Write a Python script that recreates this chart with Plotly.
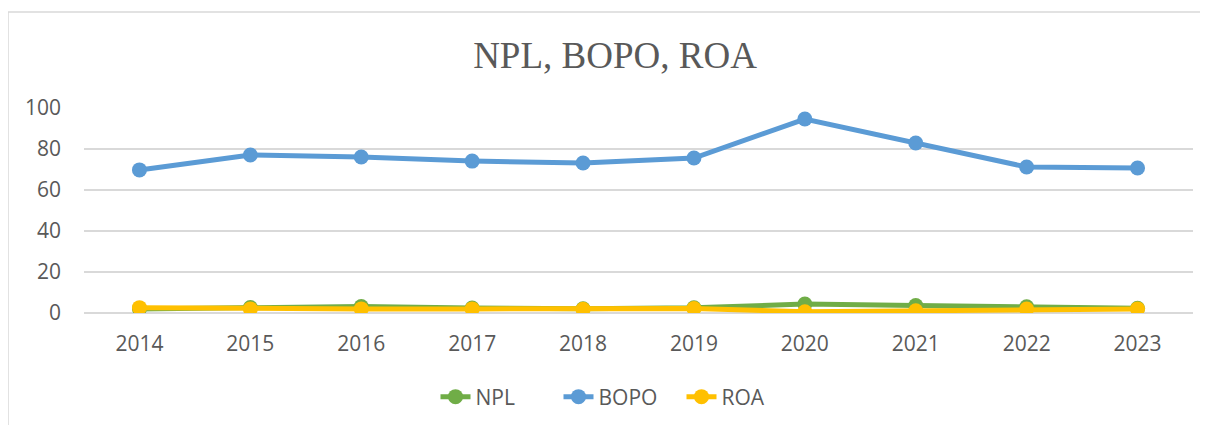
import plotly.graph_objects as go

years = ["2014", "2015", "2016", "2017", "2018", "2019", "2020", "2021", "2022", "2023"]
npl = [2.0, 2.7, 3.2, 2.4, 2.1, 2.5, 4.4, 3.6, 3.0, 2.3]
bopo = [69.8, 77.1, 76.1, 74.1, 73.2, 75.6, 94.6, 82.9, 71.2, 70.7]
roa = [2.6, 2.0, 2.0, 2.0, 1.8, 2.2, 0.6, 1.1, 1.9, 2.0]

series = [("NPL", npl, "#70AD47"), ("BOPO", bopo, "#5B9BD5"), ("ROA", roa, "#FFC000")]

fig = go.Figure()
for name, vals, col in series:
    fig.add_trace(go.Scatter(
        x=years, y=vals, name=name, mode="lines+markers",
        line=dict(color=col, width=5),
        marker=dict(color=col, size=15),
    ))

# page body adds an 8px margin, so the figure is placed at (8, 8)
O = 8
W, H = 1208 - 2 * O, 425 - O
L, R, T, B = 84 - O, W - (1193 - O), 108 - O, 112
pw, ph = W - L - R, H - T - B

bx0 = (8 - O - L) / pw
by1 = (T + ph - (12 - O)) / ph
border = dict(color="#D9D9D9", width=1.5)

fig.update_layout(
    width=W, height=H,
    margin=dict(l=L, r=R, t=T, b=B),
    paper_bgcolor="white", plot_bgcolor="white",
    font=dict(family="Open Sans, Lato, sans-serif", color="#595959", size=21),
    title=dict(text="NPL, BOPO, ROA", x=(615 - O) / W, xanchor="center", xref="container",
               y=1 - (55 - O) / H, yanchor="middle", yref="container",
               font=dict(family="Liberation Serif, serif", size=37, color="#595959")),
    showlegend=True,
    legend=dict(orientation="h", x=(620 - O) / W, xanchor="center", xref="container",
                y=1 - (397 - O) / H, yanchor="middle", yref="container",
                font=dict(size=21, color="#595959"), entrywidth=78, entrywidthmode="pixels"),
    xaxis=dict(type="category", range=[-0.5, len(years) - 0.5], showgrid=False, showline=False, ticks="",
               tickfont=dict(size=21, color="#595959"), ticklabelstandoff=16),
    yaxis=dict(range=[0, 100], dtick=20, showgrid=True, gridcolor="#D9D9D9", gridwidth=1.5,
               zeroline=True, zerolinecolor="#D9D9D9", zerolinewidth=1.5, showline=False, ticks="",
               tickfont=dict(size=21, color="#595959"), ticklabelstandoff=22),
    shapes=[
        dict(type="line", xref="paper", yref="paper", x0=bx0, x1=2.0, y0=by1, y1=by1,
             line=border, layer="below"),
        dict(type="line", xref="paper", yref="paper", x0=bx0, x1=bx0, y0=by1, y1=-2.0,
             line=border, layer="below"),
    ],
)

fig.write_html("out.html")
